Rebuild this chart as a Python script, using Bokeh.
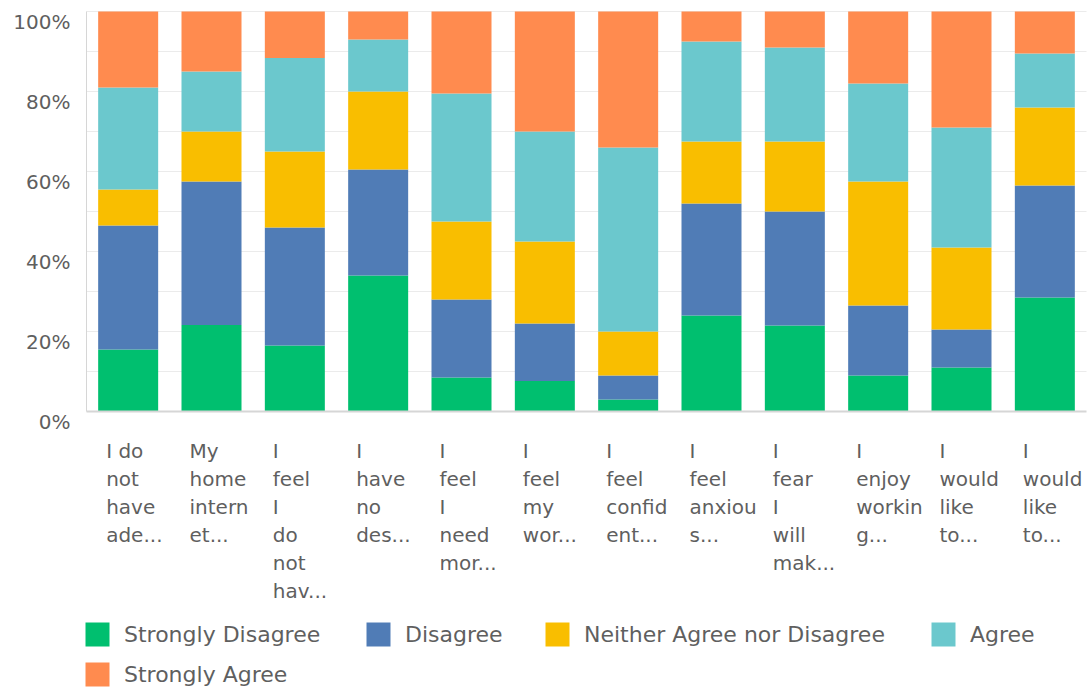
from bokeh.plotting import figure
from bokeh.models import ColumnDataSource, Range1d, Legend, LegendItem
from bokeh.core.properties import value
from bokeh.embed import file_html
from bokeh.resources import INLINE

# ---- data (percent of respondents) ----
labels = ["I do\nnot\nhave\nade...", "My\nhome\nintern\net...", "I\nfeel\nI\ndo\nnot\nhav...",
          "I\nhave\nno\ndes...", "I\nfeel\nI\nneed\nmor...", "I\nfeel\nmy\nwor...",
          "I\nfeel\nconfid\nent...", "I\nfeel\nanxiou\ns...", "I\nfear\nI\nwill\nmak...",
          "I\nenjoy\nworkin\ng...", "I\nwould\nlike\nto...", "I\nwould\nlike\nto..."]
strongly_disagree = [15.5, 21.6, 16.5, 34.0, 8.5, 7.6, 3.0, 24.0, 21.5, 9.0, 11.0, 28.5]
disagree = [31.0, 35.9, 29.5, 26.5, 19.5, 14.4, 6.0, 28.0, 28.5, 17.5, 9.5, 28.0]
neither = [9.0, 12.5, 19.0, 19.5, 19.5, 20.5, 11.0, 15.5, 17.5, 31.0, 20.5, 19.5]
agree = [25.5, 15.0, 23.4, 13.0, 32.0, 27.5, 46.0, 25.0, 23.5, 24.5, 30.0, 13.5]
strongly_agree = [19.0, 15.0, 11.6, 7.0, 20.5, 30.0, 34.0, 7.5, 9.0, 18.0, 29.0, 10.5]
series_names = ["Strongly Disagree", "Disagree", "Neither Agree nor Disagree", "Agree", "Strongly Agree"]
colors = ["#00BF6F", "#507CB6", "#F9BE00", "#6BC8CD", "#FF8B4F"]
y_ticks = [0, 20, 40, 60, 80, 100]
y_tick_labels = ["0%", "20%", "40%", "60%", "80%", "100%"]
grid_values = [10, 20, 30, 40, 50, 60, 70, 80, 90, 100]

FONT = "DejaVu Sans"
TXT = "#5f5f5f"
W, H = 1088, 687
# plot area in canvas pixels
PL, PR, PT, PB = 86, 1086, 11, 411
n = len(labels)
sx = (PR - PL) / n          # px per category
sy = (PB - PT) / 100.0      # px per percent

xs = [i + 0.5 for i in range(n)]
keys = ["sd", "d", "n", "a", "sa"]
source = ColumnDataSource(dict(x=xs, sd=strongly_disagree, d=disagree, n=neither,
                               a=agree, sa=strongly_agree))

p = figure(width=W, height=H,
           x_range=Range1d(-PL / sx, (W - PL) / sx),
           y_range=Range1d(-(H - PB) / sy, 100 + PT / sy),
           output_backend="svg", toolbar_location=None,
           min_border=0, min_border_left=0, min_border_right=0,
           min_border_top=0, min_border_bottom=0)
p.outline_line_color = None
p.background_fill_color = "white"
p.axis.visible = False
p.grid.visible = False

# grid lines
p.segment(x0=0, x1=n, y0=grid_values, y1=grid_values, line_color="#ebebeb", line_width=1)

renderers = p.vbar_stack(keys, x="x", width=60 / sx, source=source, color=colors, line_color=None)

# axis lines
p.segment(x0=[0], x1=[0], y0=[0], y1=[100], line_color="#d6d6d6", line_width=1)
p.segment(x0=[0], x1=[n], y0=[0], y1=[0], line_color="#d6d6d6", line_width=2)

# y tick labels
p.text(x=[0] * len(y_ticks), y=y_ticks, text=y_tick_labels, x_offset=-16, y_offset=10,
       text_align="right", text_baseline="middle", text_font=value(FONT),
       text_font_size="20px", text_color=TXT)

# x category labels
p.text(x=xs, y=[0] * n, text=labels, x_offset=-22, y_offset=27, text_align="left",
       text_baseline="top", text_font=value(FONT), text_font_size="20px",
       text_color=TXT, text_line_height=1.17)

# legend (one per item to match placement)
legend_pos = [(82, H - 649), (363, H - 649), (542, H - 649), (928, H - 649), (82, H - 689)]
for name, r, loc in zip(series_names, renderers, legend_pos):
    lg = Legend(items=[LegendItem(label=name, renderers=[r])], location=loc,
                glyph_width=30, glyph_height=30, padding=0, margin=0, label_standoff=12,
                border_line_color=None, background_fill_alpha=0,
                label_text_font=FONT, label_text_font_size="22px", label_text_color=TXT)
    p.add_layout(lg)

open("out.html", "w").write(file_html(p, INLINE))
